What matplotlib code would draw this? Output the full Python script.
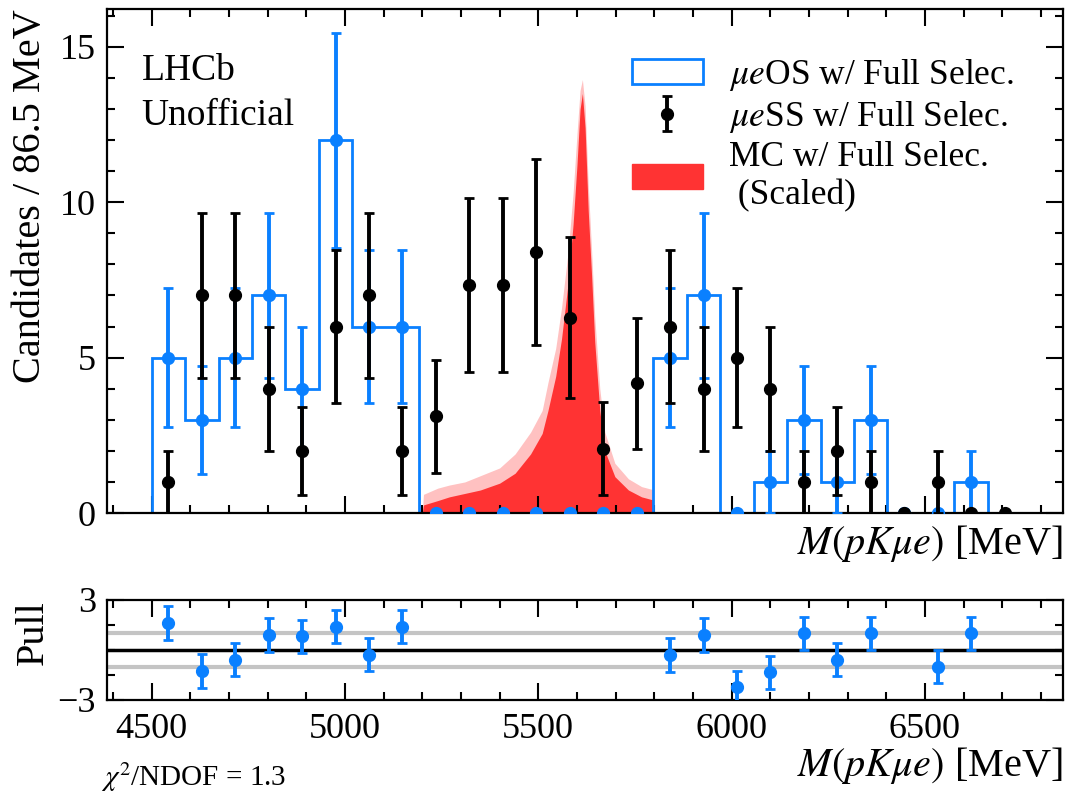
import numpy as np
import matplotlib
matplotlib.use("Agg")
import matplotlib.pyplot as plt
from matplotlib.patches import Patch

plt.rcParams['font.family'] = ['Liberation Serif', 'DejaVu Serif']
plt.rcParams['mathtext.fontset'] = 'stix'

# ---------------- data ----------------
bin_low = 4500.0
bin_width = 86.5

# mu e OS (blue histogram + points), 25 bins
os_counts = [5, 3, 5, 7, 4, 12, 6, 6, 0, 0, 0, 0, 0, 0, 0, 5, 7, 0, 1, 3, 1, 3, 0, 0, 1]
os_errors = [2.24, 1.73, 2.24, 2.65, 2.0, 3.46, 2.45, 2.45, 0, 0, 0, 0, 0, 0, 0,
             2.24, 2.65, 0, 1.0, 1.73, 1.0, 1.73, 0, 0, 1.0]

# mu e SS (black points), 26 bins
ss_counts = [1, 7, 7, 4, 2, 6, 7, 2, 3.12, 7.34, 7.34, 8.39, 6.29, 2.07, 4.17,
             6, 4, 5, 4, 1, 2, 1, 0, 1, 0, 0]
ss_errors = [1.0, 2.65, 2.65, 2.0, 1.41, 2.45, 2.65, 1.41, 1.82, 2.79, 2.79, 2.99, 2.58,
             1.49, 2.11, 2.45, 2.0, 2.24, 2.0, 1.0, 1.41, 1.0, 0, 1.0, 0, 0]

# MC (scaled) shape
mc_mass = [5200, 5203, 5240, 5270, 5310, 5350, 5400, 5440, 5480, 5510, 5525, 5545, 5560,
           5577, 5590, 5600, 5608, 5614, 5621, 5629, 5638, 5646, 5659, 5672, 5698, 5733,
           5767, 5797, 5800]
mc_core = [0, 0.26, 0.40, 0.52, 0.63, 0.74, 0.96, 1.28, 1.90, 2.56, 3.3, 4.4, 5.6,
           7.4, 9.3, 11.2, 13.0, 13.5, 12.4, 9.75, 7.6, 5.5, 3.3, 2.0, 1.17, 0.74,
           0.52, 0.42, 0]
mc_spike = [0, 0.6, 0.8, 0.9, 1.0, 1.2, 1.45, 1.9, 2.6, 3.3, 4.2, 5.3, 6.6,
            8.4, 10.3, 12.2, 13.6, 13.95, 13.1, 10.6, 8.4, 6.3, 4.0, 2.6, 1.6, 1.1,
            0.85, 0.75, 0]

# pulls
pull_bins = [0, 1, 2, 3, 4, 5, 6, 7, 15, 16, 17, 18, 19, 20, 21, 23, 24]
pull_vals = [1.63, -1.26, -0.58, 0.90, 0.82, 1.41, -0.28, 1.41, -0.30, 0.90, -2.24,
             -1.34, 1.0, -0.58, 1.0, -1.0, 1.0]
pull_errs = [1.0] * len(pull_vals)

chi2_text = r"$\chi^2$/NDOF = 1.3"

# ---------------- plotting ----------------
BLUE = '#0a80ff'
RED = '#ff3333'

os_edges = bin_low + bin_width * np.arange(len(os_counts) + 1)
os_centers = bin_low + bin_width * (np.arange(len(os_counts)) + 0.5)
ss_centers = bin_low + bin_width * (np.arange(len(ss_counts)) + 0.5)
pull_centers = bin_low + bin_width * (np.array(pull_bins) + 0.5)

W, H = 1065, 792
fig = plt.figure(figsize=(W / 100, H / 100), dpi=100)
ax1 = fig.add_axes([107 / W, 1 - 513 / H, 956 / W, 504 / H])
ax2 = fig.add_axes([107 / W, 1 - 700 / H, 956 / W, 100 / H])

xlo, xhi = 4384.5, 6857

# MC
ax1.fill_between(mc_mass, 0, mc_spike, color=RED, alpha=0.3, lw=0, zorder=1)
ax1.fill_between(mc_mass, 0, mc_core, color=RED, lw=0, zorder=1.5)

# OS histogram
ax1.stairs(os_counts, os_edges, color=BLUE, lw=2, zorder=2)
ax1.errorbar(os_centers, os_counts, yerr=os_errors, fmt='o', color=BLUE, ms=8.5,
             elinewidth=2.8, capsize=3.5, capthick=2, zorder=3)
ss = ax1.errorbar(ss_centers, ss_counts, yerr=ss_errors, fmt='o', color='black', ms=8.5,
                  elinewidth=2.8, capsize=3.5, capthick=2, zorder=4)

ax1.set_xlim(xlo, xhi)
ax1.set_ylim(0, 16.22)
ax1.set_yticks([0, 5, 10, 15])
ax1.set_yticks(np.arange(0, 17, 1), minor=True)
ax1.set_xticks(np.arange(4500, 7000, 500))
ax1.set_xticks(np.arange(4400, 6900, 100), minor=True)
ax1.tick_params(labelbottom=False)
ax1.set_ylabel('Candidates / 86.5 MeV', fontsize=29, loc='top', labelpad=8)
ax1.set_xlabel(r'$M(pK\mu e)$ [MeV]', fontsize=29, loc='right', labelpad=4)

ax1.text(0.036, 0.912, 'LHCb\nUnofficial', transform=ax1.transAxes, fontsize=27,
         va='top', ha='left', linespacing=1.42)

handles = [Patch(facecolor='white', edgecolor=BLUE, lw=2), ss, Patch(facecolor=RED, edgecolor=RED)]
labels = [r'$\mu e$OS w/ Full Selec.', r'$\mu e$SS w/ Full Selec.', 'MC w/ Full Selec.\n (Scaled)']
leg = ax1.legend(handles, labels, loc='upper left', bbox_to_anchor=((632 - 107) / 956, 0.905),
                 frameon=False, fontsize=25.5, handlelength=2.0, handleheight=0.7,
                 handletextpad=0.75, labelspacing=0.17, borderpad=0, borderaxespad=0)

# pull panel
ax2.axhline(1, color='#c4c4c4', lw=3, zorder=1)
ax2.axhline(-1, color='#c4c4c4', lw=3, zorder=1)
ax2.axhline(0, color='black', lw=2.5, zorder=2)
ax2.errorbar(pull_centers, pull_vals, yerr=pull_errs, fmt='o', color=BLUE, ms=8.5,
             elinewidth=2.8, capsize=3.5, capthick=2, zorder=3)
ax2.set_xlim(xlo, xhi)
ax2.set_ylim(-3, 3)
ax2.set_yticks([-3, 3])
ax2.set_yticks([-1.5, 0, 1.5], minor=True)
ax2.set_xticks(np.arange(4500, 7000, 500))
ax2.set_xticks(np.arange(4400, 6900, 100), minor=True)
ax2.set_ylabel('Pull', fontsize=29, loc='top', labelpad=4)
ax2.set_xlabel(r'$M(pK\mu e)$ [MeV]', fontsize=29, loc='right', labelpad=0)
ax2.text(-0.006, -0.77, chi2_text, transform=ax2.transAxes, fontsize=21, ha='left', va='center')

for ax in (ax1, ax2):
    for s in ax.spines.values():
        s.set_linewidth(1.6)
    ax.tick_params(which='both', direction='in', top=True, right=True, width=1.5, labelsize=26)
    ax.tick_params(which='major', length=12)
    ax.tick_params(which='minor', length=5.5)
    ax.tick_params(axis='y', pad=8)
    ax.tick_params(axis='x', pad=9)

fig.savefig('out.png', dpi=100)
